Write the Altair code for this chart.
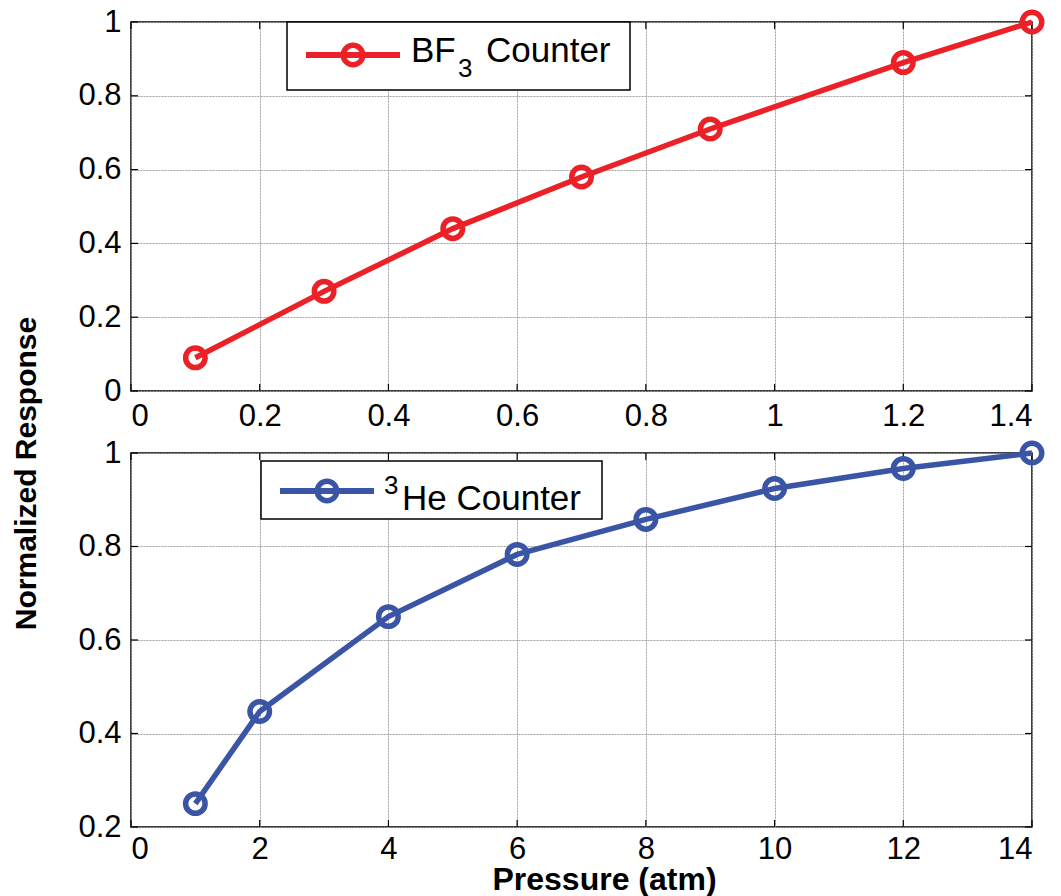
import altair as alt
import pandas as pd

# BF3 counter: normalized response vs. gas pressure (atm)
bf3_pressure = [0.1, 0.3, 0.5, 0.7, 0.9, 1.2, 1.4]
bf3_response = [0.09, 0.27, 0.44, 0.58, 0.71, 0.89, 1.0]

# 3He counter: normalized response vs. gas pressure (atm)
he3_pressure = [1, 2, 4, 6, 8, 10, 12, 14]
he3_response = [0.25, 0.447, 0.65, 0.783, 0.858, 0.924, 0.967, 1.0]

# Tick values for each panel
bf3_xticks = [0, 0.2, 0.4, 0.6, 0.8, 1.0, 1.2, 1.4]
bf3_yticks = [0, 0.2, 0.4, 0.6, 0.8, 1.0]
he3_xticks = [0, 2, 4, 6, 8, 10, 12, 14]
he3_yticks = [0.2, 0.4, 0.6, 0.8, 1.0]

RED = "#ec2027"
BLUE = "#3b55a6"
FONT = "Liberation Sans"
W = 901
TICK = 7
LW = 5.5
MSIZE = 380


def panel(xs, ys, xticks, yticks, xdom, ydom, color, height, xtitle, ytitle,
          legend, xpad):
    data = pd.DataFrame({"p": xs, "r": ys})

    common = dict(format="~g", ticks=False, labelFontSize=31, labelFont=FONT,
                  labelColor="black", grid=True, gridColor="#a0a0a0",
                  gridDash=[2, 1], gridWidth=1, domain=False)
    x_axis = dict(values=xticks, labelPadding=xpad, **common)
    y_axis = dict(values=yticks, labelPadding=10, **common)
    if xtitle:
        x_axis.update(title=xtitle, titleFont=FONT, titleFontSize=32,
                      titleFontWeight="bold", titleColor="black",
                      titleX=473, titleY=62, titleAlign="center",
                      titleBaseline="alphabetic")
    else:
        x_axis.update(title=None)
    if ytitle:
        y_axis.update(title=ytitle, titleFont=FONT, titleFontSize=30,
                      titleFontWeight="bold", titleColor="black",
                      titleAngle=270, titleX=-105, titleY=20,
                      titleAlign="center", titleBaseline="middle")
    else:
        y_axis.update(title=None)

    x_enc = alt.X("p:Q", scale=alt.Scale(domain=xdom, nice=False, zero=False),
                  axis=alt.Axis(**x_axis))
    y_enc = alt.Y("r:Q", scale=alt.Scale(domain=ydom, nice=False, zero=False),
                  axis=alt.Axis(**y_axis))

    base = alt.Chart(data)
    line = base.mark_line(color=color, strokeWidth=LW).encode(x=x_enc, y=y_enc)
    pts = base.mark_point(shape="circle", size=MSIZE, filled=False, color=color,
                          strokeWidth=LW, opacity=1).encode(x=x_enc, y=y_enc)

    # inward tick marks on all four sides
    xt = alt.Chart(pd.DataFrame({"p": xticks}))
    yt = alt.Chart(pd.DataFrame({"r": yticks}))
    ticks = [
        xt.mark_rule(color="black", strokeWidth=1.2).encode(
            x=x_enc, y=alt.value(height), y2=alt.value(height - TICK)),
        xt.mark_rule(color="black", strokeWidth=1.2).encode(
            x=x_enc, y=alt.value(0), y2=alt.value(TICK)),
        yt.mark_rule(color="black", strokeWidth=1.2).encode(
            y=y_enc, x=alt.value(0), x2=alt.value(TICK)),
        yt.mark_rule(color="black", strokeWidth=1.2).encode(
            y=y_enc, x=alt.value(W), x2=alt.value(W - TICK)),
    ]

    # legend box with line + marker sample and label
    one = alt.Chart(pd.DataFrame({"k": [0]}))
    bx0, bx1, by0, by1 = legend["box"]
    lx0, lx1, ly = legend["line"]
    leg = [
        one.mark_rect(fill="white", stroke="black", strokeWidth=1.5).encode(
            x=alt.value(bx0), x2=alt.value(bx1), y=alt.value(by0), y2=alt.value(by1)),
        one.mark_rule(color=color, strokeWidth=LW + 0.5).encode(
            x=alt.value(lx0), x2=alt.value(lx1), y=alt.value(ly)),
        one.mark_point(shape="circle", size=MSIZE, filled=False, color=color,
                       strokeWidth=LW, opacity=1).encode(
            x=alt.value((lx0 + lx1) / 2), y=alt.value(ly)),
    ]
    for txt, tx, ty, fs in legend["texts"]:
        leg.append(one.mark_text(text=txt, align="left", baseline="alphabetic",
                                 font=FONT, fontSize=fs, color="black").encode(
            x=alt.value(tx), y=alt.value(ty)))

    return alt.layer(*ticks, line, pts, *leg).properties(width=W, height=height)


top = panel(
    bf3_pressure, bf3_response, bf3_xticks, bf3_yticks, [0, 1.4], [0, 1],
    RED, 369, None, None,
    {"box": (156, 499, 0, 68), "line": (175, 269, 33),
     "texts": [("BF", 280, 40, 35), ("3", 327, 55, 26), ("Counter", 355, 40, 35)]},
    10,
)

bottom = panel(
    he3_pressure, he3_response, he3_xticks, he3_yticks, [0, 14], [0.2, 1],
    BLUE, 374, "Pressure (atm)", "Normalized Response",
    {"box": (130, 471, 8, 66), "line": (149, 243, 38),
     "texts": [("3", 253, 41, 26), ("He Counter", 271, 57, 35)]},
    7,
)

chart = alt.vconcat(top, bottom, spacing=62, bounds="flush").properties(
    padding={"left": 10, "top": 0, "right": 4, "bottom": 0}
).configure_view(stroke="black", strokeWidth=1.5)

chart.save("out.html", embed_options={"renderer": "svg", "actions": False})
